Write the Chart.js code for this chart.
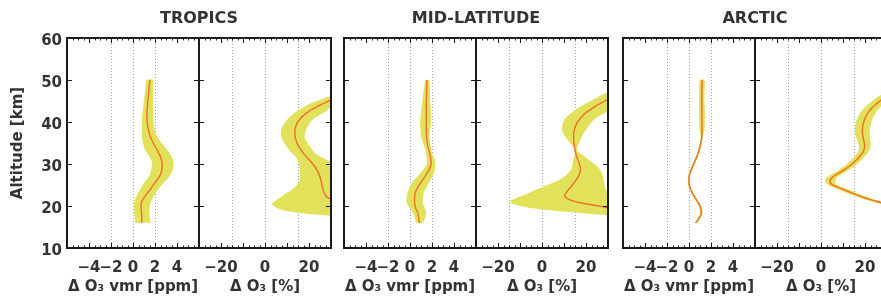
<!DOCTYPE html>
<html>
<head>
<meta charset="utf-8">
<script src="https://cdn.jsdelivr.net/npm/chart.js@4.4.1/dist/chart.umd.min.js"></script>
<style>
html, body { margin:0; padding:0; background:#fff; overflow:hidden; width:881px; height:302px; }
canvas { position:absolute; top:0; }
</style>
</head>
<body>
<canvas id="c1" width="338" height="302" style="left:0px"></canvas>
<canvas id="c2" width="276" height="302" style="left:338px"></canvas>
<canvas id="c3" width="276" height="302" style="left:617px"></canvas>
<script>
// titles and axis ticks
const regions = ["TROPICS", "MID-LATITUDE", "ARCTIC"];
const altTicks = [10, 20, 30, 40, 50, 60];
const ppmTickLabels = [-4, -2, 0, 2, 4];
const pctTickLabels = [-20, 0, 20];
const ppmGrid = [-2, 0, 2];
const pctGrid = [-15, 0, 15];

// TROPICS, vmr [ppm]
const tropPpmAlt = [16, 17.4, 19, 20.6, 22.2, 23.7, 25.4, 27, 28.6, 30.2, 31.8, 33.3, 35, 36.5, 38.5, 40.5, 42.5, 44.4, 46.5, 48.5, 50];
const tropPpmMid = [0.8, 0.8, 0.75, 0.74, 1.05, 1.5, 1.95, 2.4, 2.62, 2.65, 2.48, 2.2, 1.85, 1.58, 1.38, 1.27, 1.28, 1.33, 1.4, 1.48, 1.55];
const tropPpmLo  = [0.2, 0.15, 0.1, 0.09, 0.3, 0.6, 1.0, 1.43, 1.65, 1.74, 1.5, 1.12, 0.9, 0.81, 0.8, 0.81, 0.88, 0.96, 1.05, 1.15, 1.25];
const tropPpmHi  = [1.6, 1.52, 1.5, 1.58, 1.85, 2.2, 2.75, 3.29, 3.6, 3.7, 3.5, 3.13, 2.6, 2.2, 1.95, 1.83, 1.83, 1.83, 1.83, 1.83, 1.83];

// TROPICS, change [%]
const tropPctAlt = [17.6, 18.2, 18.8, 19.5, 20.4, 21.2, 22, 23, 24, 25, 26.5, 28, 29.5, 30.5, 31.7, 33, 34.5, 36, 37.5, 39, 40.5, 42, 43.5, 44.5, 45.5, 46.5];
const tropPctLo  = [32, 18, 10, 5.5, 3.2, 4.5, 7, 9.5, 12.5, 14.5, 15.8, 15.9, 15.6, 15.2, 14, 11.5, 9.3, 7.8, 7.2, 8, 10, 13, 17.5, 21, 26, 32];
const tropPctHi  = [40, 40, 40, 40, 40, 40, 40, 40, 40, 40, 40, 38, 34, 30, 25.3, 22, 20, 18.2, 18.3, 19.5, 21.5, 26, 30, 33, 36, 38];
const tropPctMidAlt = [21.5, 22, 23, 24, 26, 28, 30, 32, 34, 36, 38, 40, 42, 44, 45.5];
const tropPctMid = [31, 28.5, 27, 26.3, 25.5, 24.2, 21.8, 18.3, 15.5, 13.9, 13.6, 14.8, 18.5, 25, 31];

// MID-LATITUDE, vmr [ppm]
const midPpmAlt = [16, 17, 18.3, 19.5, 20.6, 21.8, 23, 24.2, 25.4, 26.6, 27.8, 29, 30.2, 31.4, 32.6, 34.5, 36.5, 38.5, 40.5, 42.5, 44.4, 46.5, 48.5, 50];
const midPpmMid = [0.86, 0.8, 0.71, 0.52, 0.42, 0.42, 0.46, 0.65, 0.93, 1.25, 1.54, 1.8, 1.92, 1.88, 1.79, 1.6, 1.5, 1.48, 1.48, 1.48, 1.48, 1.5, 1.52, 1.55];
const midPpmLo  = [0.55, 0.45, 0.3, 0.0, -0.3, -0.3, -0.25, -0.05, 0.15, 0.55, 0.93, 1.3, 1.54, 1.52, 1.48, 1.25, 1.02, 0.95, 0.93, 1.0, 1.08, 1.18, 1.3, 1.4];
const midPpmHi  = [1.2, 1.35, 1.48, 1.35, 1.17, 1.18, 1.23, 1.45, 1.7, 1.95, 2.16, 2.3, 2.31, 2.2, 2.0, 1.85, 1.79, 1.85, 1.92, 1.9, 1.85, 1.82, 1.8, 1.72];

// MID-LATITUDE, change [%]
const midPctAlt = [17.7, 18.2, 18.7, 19.3, 19.9, 20.5, 21.1, 21.6, 22.2, 23, 23.8, 25, 26.2, 27.4, 28.5, 29.8, 31, 32.2, 33.3, 34.5, 35.7, 36.9, 38.1, 39.3, 40.5, 41.7, 42.9, 44, 45.2, 46.5, 47.5];
const midPctLo  = [32, 20, 9.4, -2, -8.8, -13, -14.4, -13, -10.3, -6.5, -3, 2.5, 7.7, 11, 13, 13.8, 14.2, 14.8, 15.1, 13.5, 11.7, 10, 9.1, 9.2, 10.1, 12.3, 15.2, 18.5, 22.8, 27.5, 32];
const midPctHi  = [40, 40, 40, 40, 40, 40, 40, 38, 34, 31, 29.2, 28.4, 28.1, 27.5, 26.6, 24.2, 21.3, 18.3, 16, 16.5, 17.5, 18.5, 20, 21.5, 23.5, 27, 31, 34, 38, 40, 40];
const midPctMidAlt = [19.5, 20.3, 21.1, 22.3, 23.5, 25, 27, 28.5, 30, 32, 34, 36, 38, 40, 42, 43.5, 45, 46];
const midPctMid = [31, 22.5, 14.8, 10.3, 11.5, 13.8, 16.5, 17.5, 17, 15.6, 14.8, 14.4, 14.6, 16.2, 19.5, 23.5, 28.5, 32];

// ARCTIC, vmr [ppm]
const arcPpmAlt = [16, 16.7, 17.5, 18.3, 19.8, 21, 22.2, 23.4, 24.6, 25.8, 27, 28.6, 30.2, 31.8, 33.3, 35, 36.5, 38, 40.5, 42.5, 44.4, 47, 50];
const arcPpmMid = [0.6, 0.83, 1.0, 1.12, 1.03, 0.78, 0.5, 0.25, 0.06, 0.0, 0.0, 0.2, 0.46, 0.72, 0.92, 1.08, 1.16, 1.18, 1.18, 1.18, 1.16, 1.17, 1.19];
const arcPpmLo  = [0.5, 0.71, 0.88, 1.0, 0.91, 0.66, 0.38, 0.15, -0.04, -0.1, -0.1, 0.1, 0.36, 0.62, 0.82, 0.98, 1.06, 0.96, 0.92, 0.92, 0.91, 0.93, 0.99];
const arcPpmHi  = [0.7, 0.95, 1.12, 1.24, 1.15, 0.9, 0.62, 0.35, 0.16, 0.1, 0.1, 0.3, 0.56, 0.82, 1.02, 1.18, 1.26, 1.4, 1.44, 1.44, 1.41, 1.41, 1.39];

// ARCTIC, change [%]
const arcPctAlt = [20, 20.8, 21.5, 22.2, 23, 23.8, 24.6, 25.4, 26.2, 27, 27.8, 28.5, 29.7, 31, 32.2, 33.3, 34.5, 35.7, 37, 38.1, 39.3, 40.5, 41.7, 42.9, 44, 45.2, 46.5];
const arcPctMid = [33, 27.3, 22.5, 18.5, 14.5, 10.9, 7, 4.3, 4.3, 5.5, 8, 10.2, 13.5, 16.2, 18.2, 19.5, 19.8, 19.4, 18.9, 18.8, 19.1, 19.7, 20.8, 22.3, 24.5, 27.3, 31];
const arcPctLo  = [31, 25, 20.3, 16.3, 12.3, 8.7, 4.8, 2.2, 2.0, 3.2, 5.7, 7.9, 11.2, 13.9, 15.9, 17.1, 17.2, 16.4, 15.6, 15.4, 15.6, 16.2, 17.3, 18.8, 21, 23.8, 27.5];
const arcPctHi  = [35, 29.6, 24.7, 20.7, 16.7, 13.1, 9.2, 6.6, 6.6, 7.8, 10.3, 12.5, 15.8, 18.5, 20.5, 22, 22.6, 22.4, 22.2, 22.2, 22.6, 23.2, 24.3, 25.8, 28, 30.8, 34.5];

const FONT = "'DejaVu Sans', 'Liberation Sans', sans-serif";
const TXT = '#333';
const YELLOW = 'rgb(226, 226, 90)';
const ORANGE = 'rgb(240, 110, 40)';

function pts(xs, ys) {
    return xs.map((x, i) => ({x: x, y: ys[i]}));
}
// closed outline: left edge going up, right edge coming down
function bandShape(alt, lo, hi) {
    return pts(lo, alt).concat(pts(hi, alt).reverse());
}
function minus(v) {
    return v < 0 ? '\u2212' + Math.abs(v) : String(v);
}

function panel(axis, alt, lo, hi, midAlt, mid) {
    return [
        {data: pts(mid, midAlt), xAxisID: axis, yAxisID: 'y', order: 0, fill: false,
         borderColor: ORANGE, borderWidth: 1.4, pointRadius: 0, tension: 0.4},
        {data: bandShape(alt, lo, hi), xAxisID: axis, yAxisID: 'y', order: 1, fill: 'shape',
         backgroundColor: YELLOW, borderColor: 'rgba(0,0,0,0)', borderWidth: 0, pointRadius: 0, tension: 0.35}
    ];
}

// frames and inward IDL-style tick marks
const frames = {
    id: 'frames',
    afterDatasetsDraw(chart) {
        const ctx = chart.ctx, a = chart.chartArea, y = chart.scales.y;
        ctx.save();
        ctx.strokeStyle = '#1a1a1a';
        ['ppm', 'pct'].forEach(id => {
            const s = chart.scales[id];
            const major = id === 'ppm' ? 2 : 10;
            const minor = id === 'ppm' ? 0.5 : 2.5;
            ctx.lineWidth = 1;
            ctx.beginPath();
            for (let v = s.min + minor; v < s.max - 1e-6; v += minor) {
                const isMajor = Math.abs(v / major - Math.round(v / major)) < 1e-6;
                const len = isMajor ? 5 : 2.5;
                const px = Math.round(s.getPixelForValue(v)) + 0.5;
                ctx.moveTo(px, a.top); ctx.lineTo(px, a.top + len);
                ctx.moveTo(px, a.bottom); ctx.lineTo(px, a.bottom - len);
            }
            altTicks.forEach(t => {
                if (t <= y.min || t >= y.max) return;
                const py = Math.round(y.getPixelForValue(t)) + 0.5;
                ctx.moveTo(s.left, py); ctx.lineTo(s.left + 5, py);
                ctx.moveTo(s.right, py); ctx.lineTo(s.right - 5, py);
            });
            ctx.stroke();
            ctx.lineWidth = 2;
            ctx.strokeRect(s.left, a.top, s.right - s.left, a.bottom - a.top);
        });
        ctx.restore();
    }
};

function xAxis(min, max, step, labels, grid) {
    return {
        type: 'linear', axis: 'x', position: 'bottom', stack: 'pair', stackWeight: 1,
        min: min, max: max,
        afterFit: s => { s.height = 54; s.paddingLeft = 0; s.paddingRight = 0; },
        grid: {
            drawTicks: false,
            lineWidth: 1,
            color: c => (c.tick && grid.includes(c.tick.value)) ? '#a0a0a0' : 'rgba(0,0,0,0)'
        },
        border: {display: false, dash: [1, 2]},
        ticks: {
            stepSize: step, autoSkip: false, maxRotation: 0, padding: 11, color: TXT,
            font: {family: FONT, size: 15, weight: 'bold'},
            callback: v => labels.includes(v) ? minus(v) : ''
        },
        title: {display: true, color: TXT, padding: {top: 0, bottom: 6},
                font: {family: FONT, size: 15, weight: 'bold'}}
    };
}

function makeChart(canvasId, idx, sets, showY, padL, padR) {
    const ppm = xAxis(-6, 6, 2, ppmTickLabels, ppmGrid);
    ppm.title.text = '\u0394 O\u2083 vmr [ppm]';
    const pct = xAxis(-30, 30, 5, pctTickLabels, pctGrid);
    pct.title.text = '\u0394 O\u2083 [%]';
    return new Chart(document.getElementById(canvasId), {
        type: 'line',
        data: {datasets: sets},
        options: {
            animation: false,
            responsive: false,
            events: [],
            layout: {padding: {left: padL, right: padR, top: 0, bottom: 0}},
            elements: {line: {capBezierPoints: false}},
            plugins: {
                legend: {display: false},
                tooltip: {enabled: false},
                title: {
                    display: true, text: regions[idx], fullSize: false, color: TXT,
                    font: {family: FONT, size: 16, weight: 'bold', lineHeight: 1.25},
                    padding: {top: 9, bottom: 9}
                }
            },
            scales: {
                ppm: ppm,
                pct: pct,
                y: {
                    type: 'linear', position: 'left', min: 10, max: 60,
                    display: showY,
                    afterFit: s => { s.width = showY ? 67 : 0; s.paddingTop = 0; s.paddingBottom = 0; },
                    grid: {display: false, drawTicks: false},
                    border: {display: false},
                    ticks: {stepSize: 10, padding: 5, labelOffset: 3, color: TXT,
                            font: {family: FONT, size: 15, weight: 'bold'}},
                    title: {display: true, text: 'Altitude [km]', color: TXT, padding: {top: 9, bottom: 0},
                            font: {family: FONT, size: 15, weight: 'bold'}}
                }
            }
        },
        plugins: [frames]
    });
}

makeChart('c1', 0,
    panel('ppm', tropPpmAlt, tropPpmLo, tropPpmHi, tropPpmAlt, tropPpmMid)
        .concat(panel('pct', tropPctAlt, tropPctLo, tropPctHi, tropPctMidAlt, tropPctMid)),
    true, 0, 7);
makeChart('c2', 1,
    panel('ppm', midPpmAlt, midPpmLo, midPpmHi, midPpmAlt, midPpmMid)
        .concat(panel('pct', midPctAlt, midPctLo, midPctHi, midPctMidAlt, midPctMid)),
    false, 6, 6);
makeChart('c3', 2,
    panel('ppm', arcPpmAlt, arcPpmLo, arcPpmHi, arcPpmAlt, arcPpmMid)
        .concat(panel('pct', arcPctAlt, arcPctLo, arcPctHi, arcPctAlt, arcPctMid)),
    false, 6, 6);
</script>
</body>
</html>
